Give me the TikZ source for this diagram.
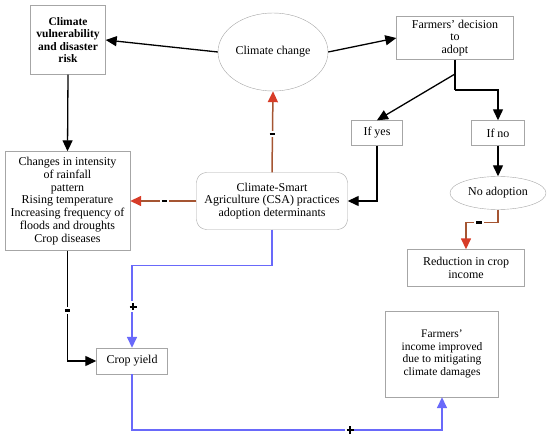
\documentclass[tikz,border=0pt]{standalone}
\usepackage{fontspec}
\setmainfont{Liberation Serif}
\usetikzlibrary{positioning,shapes,arrows.meta,calc}

\definecolor{negbrown}{RGB}{165,85,50}
\definecolor{negred}{RGB}{215,60,40}
\definecolor{posblue}{RGB}{105,105,250}

\newcommand{\negsign}{\rule{5.5pt}{2.6pt}}
\newcommand{\possign}{\rlap{\rule[2.55pt]{7.5pt}{2.4pt}}\hspace{2.55pt}\rule{2.4pt}{7.5pt}\hspace{2.55pt}}

\begin{document}
\begin{tikzpicture}[
    x=1pt, y=-1pt,
    txt/.style={font=\fontsize{12}{12.8}\selectfont, align=center},
    box/.style={txt, rectangle, draw=gray!70, inner sep=0pt},
    oval/.style={txt, ellipse, draw=gray!70, inner sep=0pt},
    blk/.style={-{Triangle[length=11pt,width=10pt]}, line width=1.3pt, black},
    loss/.style={-{Triangle[length=11pt,width=10pt,color=negred]}, line width=1.5pt, draw=negbrown},
    gain/.style={-{Triangle[length=11pt,width=10pt]}, line width=1.6pt, draw=posblue},
    sign/.style={fill=white, inner sep=2pt}
]
    \useasboundingbox (0,0) rectangle (550,441);

    % boxes
    \node[box, minimum width=75, minimum height=69, font=\bfseries\fontsize{11.5}{12.5}\selectfont] (vuln) at (68, 40) {Climate \\ vulnerability \\ and disaster \\ risk};
    \node[oval, minimum width=110, minimum height=78] (cc) at (273, 52) {Climate change};
    \node[box, minimum width=117, minimum height=43] (dec) at (455, 38) {Farmers' decision \\ to \\ adopt};
    \node[box, minimum width=51, minimum height=25] (yes) at (377, 133) {If yes};
    \node[box, minimum width=53, minimum height=25] (no) at (498, 133) {If no};
    \node[box, minimum width=125, minimum height=99] (changes) at (67.5, 201) {Changes in intensity \\ of rainfall \\ pattern \\ Rising temperature \\ Increasing frequency of \\ floods and droughts \\ Crop diseases};
    \node[box, rounded corners=10pt, minimum width=151, minimum height=57] (csa) at (272, 201) {Climate-Smart \\ Agriculture (CSA) practices \\ adoption determinants};
    \node[oval, minimum width=96, minimum height=33] (noadopt) at (498, 193) {No adoption};
    \node[box, minimum width=117, minimum height=37] (reduce) at (466, 268) {Reduction in crop \\ income};
    \node[box, minimum width=71, minimum height=26] (crop) at (132, 361) {Crop yield};
    \node[box, minimum width=113, minimum height=86, font=\fontsize{11.5}{12.5}\selectfont] (income) at (442, 354) {Farmers' \\ income improved \\ due to mitigating \\ climate damages};

    \coordinate (fork) at (455, 74);
    \coordinate (split) at (455, 90);

    % black links
    \draw[blk] (cc.west) -- (vuln.east);
    \draw[blk] (cc.east) -- (dec.west);
    \draw[blk] (vuln.south) -- (changes.north);
    \draw[line width=1.3pt] (dec.south) -- (split);
    \draw[blk] (fork) -- (yes.north);
    \draw[blk] (split) -| (no.north);
    \draw[blk] (yes.south) |- (csa.east);
    \draw[blk] (no.south) -- (noadopt.north);
    \draw[blk] (changes.south) |- node[sign, pos=0.27] {\negsign} (crop.west);

    % negative links
    \draw[loss] (csa.north) -- node[sign, pos=0.47] {\negsign} (cc.south);
    \draw[loss] (csa.west) -- node[sign, pos=0.48] {\negsign} (changes.east);
    \draw[loss] (noadopt.south) -- ++(0, 13) -| node[sign, pos=0.3] {\negsign} (reduce.north);

    % positive links
    \draw[gain] (csa.south) -- ++(0, 36) -| node[sign, pos=0.75] {\possign} (crop.north);
    \draw[gain] (crop.south) -- ++(0, 56) -| node[sign, pos=0.35] {\possign} (income.south);
\end{tikzpicture}
\end{document}
